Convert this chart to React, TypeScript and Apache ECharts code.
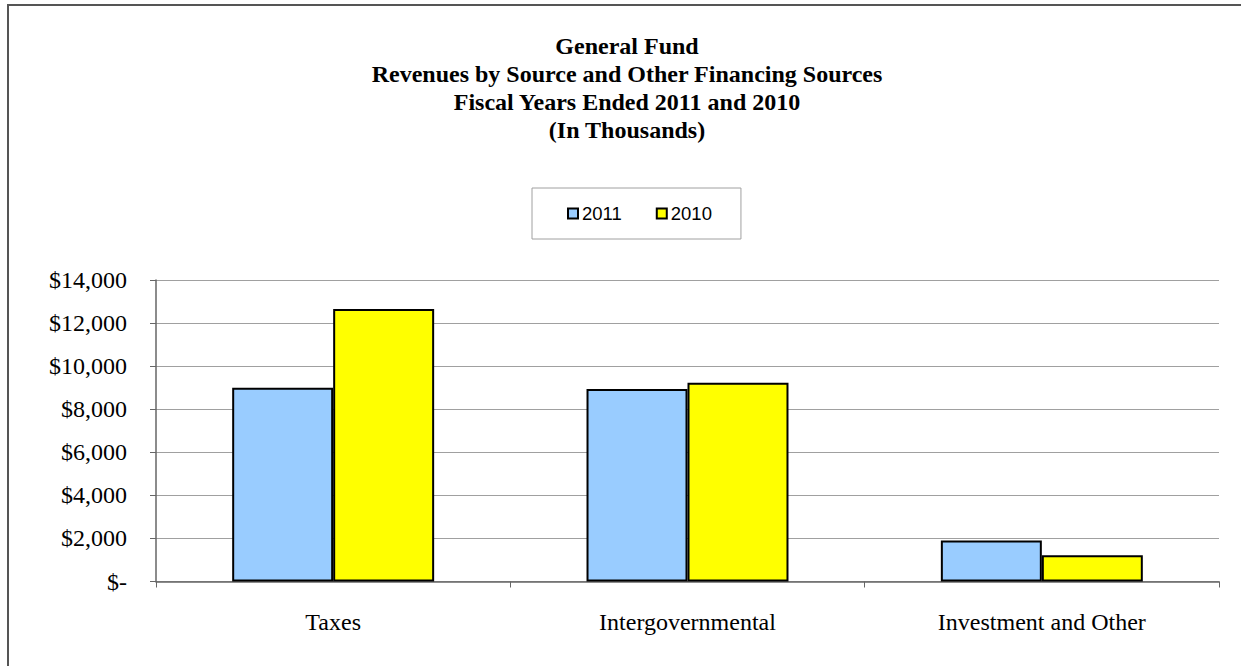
import React, { useEffect, useRef } from "react";
import * as echarts from "echarts";

const categories = ["Taxes", "Intergovernmental", "Investment and Other"];
const values2011 = [9000, 8940, 1900];
const values2010 = [12650, 9230, 1220];
const titleLines = [
  "General Fund",
  "Revenues by Source and Other Financing Sources",
  "Fiscal Years Ended 2011 and 2010",
  "(In Thousands)",
];
const seriesNames = ["2011", "2010"];

export default function App() {
  const ref = useRef<HTMLDivElement>(null);
  useEffect(() => {
    if (!ref.current) return;
    const chart = echarts.init(ref.current, null, { renderer: "svg" });
    const serif = "'Liberation Serif', 'Times New Roman', serif";
    chart.setOption({
      animation: false,
      backgroundColor: "#ffffff",
      title: {
        text: titleLines.join("\n"),
        left: 627,
        textAlign: "center",
        top: 32,
        padding: 0,
        textStyle: {
          fontFamily: serif,
          fontWeight: "bold",
          fontSize: 24,
          lineHeight: 28,
          color: "#000",
        },
      },
      legend: {
        left: 532,
        top: 188,
        padding: [16, 29, 16, 35],
        borderColor: "#a0a0a0",
        borderWidth: 1,
        itemWidth: 10,
        itemHeight: 10,
        itemGap: 34,
        icon: "rect",
        textStyle: {
          fontFamily: "'Liberation Sans', Arial, sans-serif",
          fontSize: 18.5,
          color: "#000",
          padding: [0, 0, 0, -1],
        },
        data: seriesNames,
      },
      graphic: [
        {
          type: "rect",
          shape: { x: 8, y: 5, width: 1300, height: 700 },
          style: { fill: "none", stroke: "#555", lineWidth: 2 },
          silent: true,
        },
      ],
      grid: { left: 156, right: 22, top: 280, bottom: 84.5 },
      xAxis: {
        type: "category",
        data: categories,
        axisLine: { lineStyle: { color: "#666", width: 1.5 } },
        axisTick: { show: true, length: 6, lineStyle: { color: "#666" } },
        axisLabel: {
          fontFamily: serif,
          fontSize: 24,
          color: "#000",
          margin: 28,
        },
      },
      yAxis: {
        type: "value",
        min: 0,
        max: 14000,
        interval: 2000,
        axisLine: { show: true, lineStyle: { color: "#666", width: 1.5 } },
        axisTick: { show: true, length: 6, lineStyle: { color: "#666" } },
        splitLine: { lineStyle: { color: "#a0a0a0", width: 1 } },
        axisLabel: {
          fontFamily: serif,
          fontSize: 24,
          color: "#000",
          margin: 29,
          formatter: (v: number) =>
            v === 0 ? "$-" : "$" + v.toLocaleString("en-US"),
        },
      },
      series: [
        {
          name: seriesNames[0],
          type: "bar",
          data: values2011,
          barGap: "0%",
          barCategoryGap: "43%",
          itemStyle: { color: "#99CCFF", borderColor: "#000", borderWidth: 2 },
        },
        {
          name: seriesNames[1],
          type: "bar",
          data: values2010,
          barGap: "0%",
          barCategoryGap: "43%",
          itemStyle: { color: "#FFFF00", borderColor: "#000", borderWidth: 2 },
        },
      ],
    });
    return () => chart.dispose();
  }, []);
  return (
    <div
      ref={ref}
      style={{ position: "fixed", left: 0, top: 0, width: 1241, height: 666 }}
    />
  );
}
